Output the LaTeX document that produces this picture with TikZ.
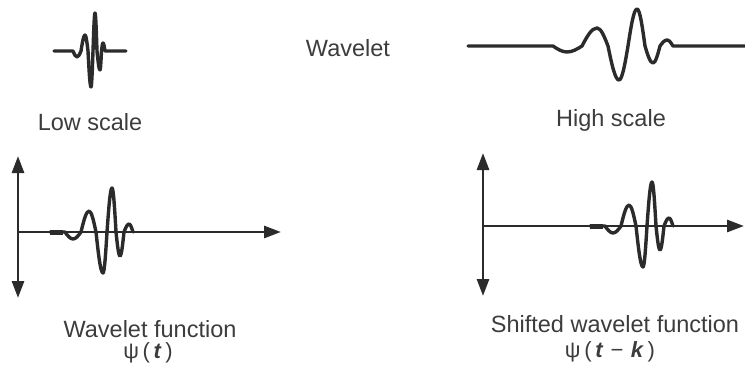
\documentclass[tikz,border=0pt]{standalone}
\usepackage{fontspec}
\setmainfont{Liberation Sans}
\usetikzlibrary{arrows.meta}
\definecolor{ink}{HTML}{2B2B2B}
\definecolor{txt}{HTML}{3C3C3C}
\tikzset{
  wave/.style={draw=ink, line width=3.4pt, line join=round, line cap=round},
  axisline/.style={draw=ink, line width=2.8pt},
  tip/.tip={Triangle[length=17pt,width=12pt]},
  lbl/.style={text=txt, font=\fontsize{23.5}{28}\selectfont, anchor=base, inner sep=0pt},
  psilbl/.style={text=txt, font=\fontsize{22}{26}\selectfont, anchor=base, inner sep=0pt},
  bwave/.pic={
    \draw[ink, line width=5pt] (-62,0) -- (-49,0);
    \draw[wave] (-62,0) -- (-47,0) sin (-39,7) cos (-31,0) sin (-23,-21) cos (-16,0)
      sin (-9,41) cos (-5,0) sin (0,-44) cos (4,0) sin (8,24) cos (12,0)
      sin (17,-8) cos (21,0);
  }
}
\begin{document}
\begin{tikzpicture}[x=1pt,y=-1pt]
\useasboundingbox (0,0) rectangle (745,369);

% top: low scale wavelet
\draw[wave] (54,51) -- (73,51) sin (77,57) cos (81,51) sin (85,35) cos (88,51)
  sin (91,87) cos (93,51) sin (95,13) cos (97,51) sin (100,70) cos (101.5,51)
  sin (103,43) cos (105,51) -- (126,51);

% top: high scale wavelet
\draw[wave] (468,46) -- (553,46) sin (567,52) cos (582,46) sin (597,28) cos (608,46)
  sin (619,80) cos (628,46) sin (637,9) cos (645,46) sin (653,63) cos (660,46)
  sin (667,40) cos (673,46) -- (745,46);

\node[lbl] (low) at (90,131) {Low scale};
\node[lbl] (wav) at (348,57) {Wavelet};
\node[lbl] (high) at (611,127) {High scale};

% bottom left axes
\coordinate (lt) at (18,156);
\coordinate (lb) at (18,298);
\coordinate (lo) at (18,232);
\coordinate (lr) at (281,232);
\draw[axisline, tip-tip] (lt) -- (lb);
\draw[axisline, -tip] (lo) -- (lr);
\pic at (112,232) {bwave};

% bottom right axes
\coordinate (rt) at (483,153);
\coordinate (rb) at (483,296);
\coordinate (ro) at (483,226);
\coordinate (rr) at (744,226);
\draw[axisline, tip-tip] (rt) -- (rb);
\draw[axisline, -tip] (ro) -- (rr);
\pic at (652,226) {bwave};

\node[lbl] (wf) at (150,337) {Wavelet function};
\node[psilbl] (psi1) at (148,358) {ψ\,(\,\textbf{\textit{t}}\,)};
\node[lbl] (swf) at (615,332) {Shifted wavelet function};
\node[psilbl] (psi2) at (610,357) {ψ\,(\,\textbf{\textit{t}}\,\,−\,\,\textbf{\textit{k}}\,)};
\end{tikzpicture}
\end{document}
